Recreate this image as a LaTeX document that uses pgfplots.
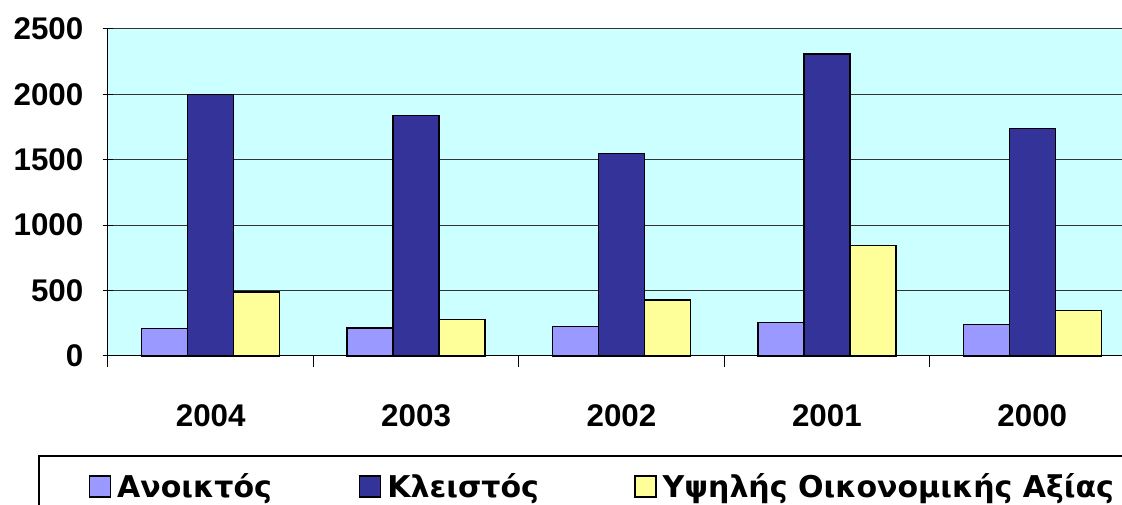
\documentclass[border=0pt]{standalone}
\usepackage{pgfplots}
\pgfplotsset{compat=1.18}
\usepackage{fontspec}
\setmainfont{Liberation Sans}
\newfontfamily\legfont{DejaVu Sans}
\definecolor{bgcyan}{HTML}{CCFFFF}
\definecolor{cpurple}{HTML}{9999FF}
\definecolor{cdark}{HTML}{333399}
\definecolor{cyellow}{HTML}{FFFF99}
\pgfplotsset{sq legend/.style={legend image code/.code={\draw[##1,line width=0.9pt] (0pt,-7.875pt) rectangle (15.75pt,7.875pt);}}}
\newcommand{\lf}{\fontsize{23.5}{28}\selectfont\bfseries}
\newcommand{\legf}{\legfont\fontsize{22.5}{27}\selectfont\bfseries}
\begin{document}
\begin{tikzpicture}
\useasboundingbox (-81pt,-111.75pt) rectangle (760.5pt,267pt);
\clip (-81pt,-111.75pt) rectangle (760.5pt,267pt);
\begin{axis}[
  at={(0,0)}, anchor=south west,
  scale only axis,
  width=770.25pt, height=245.25pt,
  xmin=-0.5, xmax=4.5,
  ymin=0, ymax=2500,
  ytick={0,500,...,2500},
  xtick={0,1,2,3,4},
  xticklabels={2004,2003,2002,2001,2000},
  minor xtick={-0.5,0.5,1.5,2.5,3.5,4.5},
  major x tick style={draw=none},
  minor x tick style={black, line width=0.75pt},
  y tick style={black, line width=0.75pt},
  tick align=outside,
  major tick length=8pt,
  minor tick length=8pt,
  axis x line=bottom,
  axis y line=left,
  axis line style={-, black, line width=0.75pt},
  ymajorgrids,
  grid style={black!80, line width=0.75pt},
  axis background/.style={fill=bgcyan},
  ybar=0pt,
  bar width=34.5pt,
  /pgf/number format/assume math mode=true,
  /pgf/number format/set thousands separator={},
  tick label style={font=\lf},
  yticklabel style={anchor=east, xshift=-11pt},
  xticklabel style={anchor=center, yshift=-37pt},
  legend columns=3,
  legend style={draw=none, fill=none, inner sep=0pt, outer sep=0pt,
    at={(-0.0185,-0.399)}, anchor=west,
    font=\legf,
    nodes={inner sep=0pt, outer sep=0pt, anchor=west},
    /tikz/every odd column/.append style={column sep=4.5pt}},
  clip=false,
]
\addplot[fill=cpurple, draw=black, line width=1.1pt, sq legend] coordinates {(0,212) (1,214) (2,227) (3,255) (4,240)};
\addplot[fill=cdark, draw=black, line width=1.1pt, sq legend] coordinates {(0,2000) (1,1837) (2,1547) (3,2310) (4,1738)};
\addplot[fill=cyellow, draw=black, line width=1.1pt, sq legend] coordinates {(0,490) (1,280) (2,428) (3,843) (4,346)};
\addlegendentry{\makebox[181.5pt][l]{\legf Ανοικτός}}
\addlegendentry{\makebox[185.25pt][l]{\legf Κλειστός}}
\addlegendentry{\legf Υψηλής Οικονομικής Αξίας}
\end{axis}
\draw[black, line width=1pt] (-51.75pt,-130pt) -- (-51.75pt,-75pt) -- (800pt,-75pt);
\end{tikzpicture}
\end{document}
